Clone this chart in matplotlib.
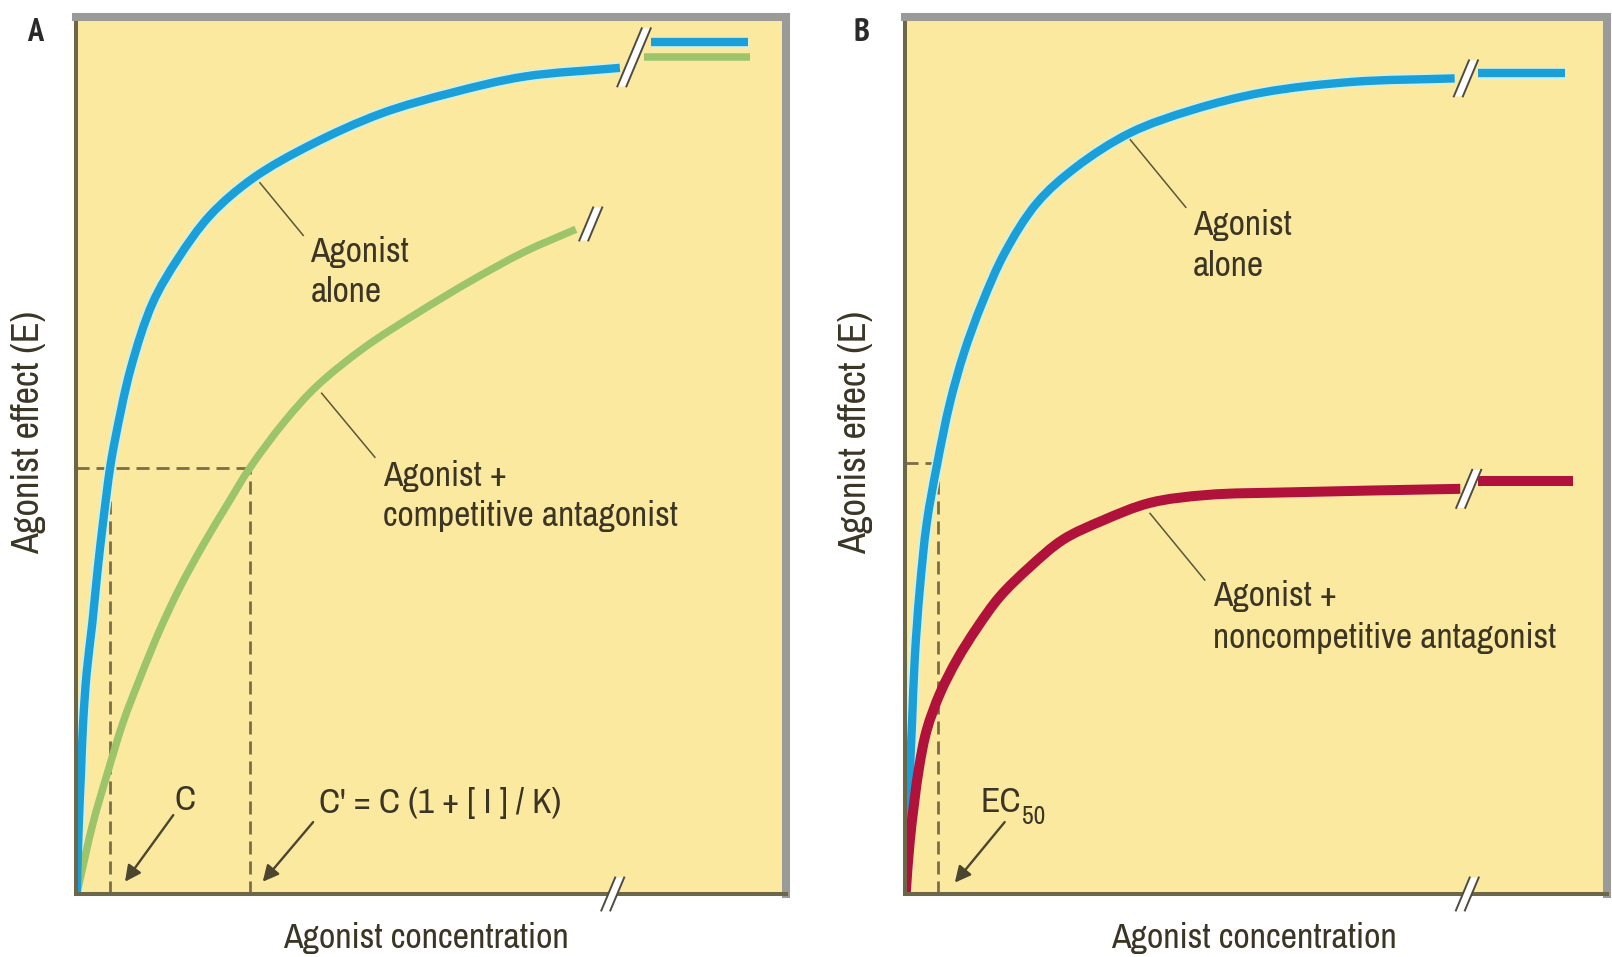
import matplotlib
matplotlib.use("Agg")
import numpy as np
import matplotlib.pyplot as plt
from matplotlib import font_manager
from matplotlib.font_manager import FontProperties
from matplotlib.patches import Polygon, PathPatch
from matplotlib.path import Path
from matplotlib.lines import Line2D

# ---------------- data ----------------
# Panel A : agonist alone (blue) and agonist + competitive antagonist (green)
blue_a_x = [0.1, 0.4, 0.7, 1.0, 1.5, 2.3, 3.0, 3.8, 4.8, 5.5, 7.7, 10.8, 14.4, 18.9, 24.9, 33.0, 43.0, 53.1, 63.1, 76.6]
blue_a_y = [0.0, 8.1, 13.8, 19.5, 25.2, 30.9, 36.6, 42.3, 48.6, 51.8, 59.9, 67.4, 72.5, 77.4, 81.6, 85.4, 89.0, 91.4, 93.2, 94.2]
blue_a_tail_x = [81.0, 94.6]
blue_a_tail_y = [97.1, 97.1]

green_a_x = [0.1, 2.4, 4.4, 6.6, 9.0, 11.8, 14.6, 17.9, 21.3, 24.5, 29.4, 33.9, 40.6, 48.0, 55.6, 63.1, 70.4]
green_a_y = [0.0, 8.1, 13.7, 19.5, 24.6, 30.1, 34.9, 39.8, 44.4, 48.6, 53.9, 57.9, 62.3, 66.2, 69.9, 73.2, 75.8]
green_a_tail_x = [80.0, 94.9]
green_a_tail_y = [95.4, 95.4]

half_a = 48.6
c_a = 4.8
c_prime_a = 24.5

# Panel B : agonist alone (blue) and agonist + noncompetitive antagonist (red)
blue_b_x = [0.1, 0.3, 0.6, 1.0, 1.4, 2.1, 3.1, 4.6, 6.4, 8.4, 11.0, 14.2, 18.8, 24.4, 32.1, 40.9, 51.0, 63.7, 78.3]
blue_b_y = [0.0, 4.2, 11.9, 19.5, 27.0, 34.7, 42.3, 49.1, 56.0, 61.7, 67.4, 73.1, 78.8, 82.9, 86.8, 89.4, 91.4, 92.6, 93.0]
blue_b_tail_x = [81.6, 94.0]
blue_b_tail_y = [93.6, 93.6]

red_b_x = [0.1, 0.7, 2.0, 3.1, 5.0, 7.4, 10.3, 13.5, 17.8, 22.5, 28.2, 34.9, 43.0, 54.8, 79.1]
red_b_y = [0.0, 6.2, 14.4, 18.7, 22.9, 26.7, 30.4, 33.9, 37.3, 40.4, 42.6, 44.6, 45.5, 45.8, 46.2]
red_b_tail_x = [81.6, 95.2]
red_b_tail_y = [47.1, 47.1]

half_b = 49.1
ec50_b = 4.7

# axis-break marks (data coords of centre)
breaks_a = [(78.6, 95.4), (72.5, 76.4), (75.6, 0.0)]
breaks_b = [(79.9, 93.0), (80.3, 46.2), (80.1, 0.0)]

# ---------------- font choice (prefer a narrow sans) ----------------
def pick_font(bold=False):
    cands = []
    for f in font_manager.fontManager.ttflist:
        key = (f.name + " " + f.fname).lower()
        if f.style != "normal":
            continue
        wt = f.weight if isinstance(f.weight, int) else (700 if f.weight == "bold" else 400)
        if (bold and wt != 700) or (not bold and wt != 400):
            continue
        if "narrow" in key:
            cands.append((0, f.fname))
        elif "condensed" in key and "semi" not in key and "extra" not in key \
                and "ultra" not in key and "dejavu" not in key:
            cands.append((1, f.fname))
        elif "semicondensed" in key.replace(" ", "").replace("-", "") and "dejavu" not in key:
            cands.append((2, f.fname))
    if cands:
        cands.sort()
        return FontProperties(fname=cands[0][1])
    return None


FP = pick_font() or FontProperties(family=["Liberation Sans", "DejaVu Sans"])
FPB = pick_font(bold=True) or FontProperties(family=["Liberation Sans", "DejaVu Sans"], weight="bold")

BG = "#FCE9A0"
BLUE = "#1A9FD9"
HALO = "#CDF1EC"
GREEN = "#9CC46B"
RED = "#B1123C"
TXT = "#3A3524"
DASH = "#7A6E48"
LEAD = "#5C5638"

W, H = 1612, 957
fig = plt.figure(figsize=(W / 100, H / 100), dpi=100)
fig.patch.set_facecolor("white")
renderer = fig.canvas.get_renderer()


def fit(s, target_px, prop=FP):
    p = prop.copy()
    p.set_size(20)
    w, h, d = renderer.get_text_width_height_descent(s, p, ismath=False)
    return 20 * target_px / w


def fit_h(s, target_px, prop):
    p = prop.copy()
    p.set_size(20)
    w, h, d = renderer.get_text_width_height_descent(s, p, ismath=False)
    return 20 * target_px / (h - d)


FS = fit("competitive antagonist", 295)
FS_X = fit("Agonist concentration", 286)
FS_Y = FS * 1.08
FS_L = fit_h("A", 22, FPB)


def fprop(size, base=FP):
    p = base.copy()
    p.set_size(size)
    return p


def make_ax(left_px, right_px):
    top_px, bot_px = 17, 894
    ax = fig.add_axes([left_px / W, (H - bot_px) / H,
                       (right_px - left_px) / W, (bot_px - top_px) / H])
    ax.set_facecolor(BG)
    ax.set_xlim(0, 100)
    ax.set_ylim(0, 100)
    ax.set_xticks([])
    ax.set_yticks([])
    for s in ("left", "bottom"):
        ax.spines[s].set_color("#6C6748")
        ax.spines[s].set_linewidth(2.9)
    for s in ("top", "right"):
        ax.spines[s].set_color("#9A9A98")
        ax.spines[s].set_linewidth(5.8)
    return ax


def smooth_path(ax, x, y, alpha=0.5):
    """Centripetal Catmull-Rom curve through the given points (built in pixel space)."""
    P = ax.transData.transform(np.column_stack([x, y]))
    n = len(P)
    if n == 2:
        return Path(ax.transData.inverted().transform(P))
    ext = np.vstack([2 * P[0] - P[1], P, 2 * P[-1] - P[-2]])
    verts = [P[0]]
    codes = [Path.MOVETO]
    for i in range(1, n):
        p0, p1, p2, p3 = ext[i - 1], ext[i], ext[i + 1], ext[i + 2]
        d1 = max(np.hypot(*(p1 - p0)), 1e-6) ** alpha
        d2 = max(np.hypot(*(p2 - p1)), 1e-6) ** alpha
        d3 = max(np.hypot(*(p3 - p2)), 1e-6) ** alpha
        b1 = (d1 ** 2 * p2 - d2 ** 2 * p0 + (2 * d1 ** 2 + 3 * d1 * d2 + d2 ** 2) * p1) / (3 * d1 * (d1 + d2))
        b2 = (d3 ** 2 * p1 - d2 ** 2 * p3 + (2 * d3 ** 2 + 3 * d3 * d2 + d2 ** 2) * p2) / (3 * d3 * (d3 + d2))
        verts += [b1, b2, p2]
        codes += [Path.CURVE4] * 3
    verts = ax.transData.inverted().transform(np.array(verts))
    return Path(verts, codes)


def curve(ax, x, y, color, lw, halo=None):
    path = smooth_path(ax, x, y)
    if halo:
        ax.add_patch(PathPatch(path, fill=False, edgecolor=halo, lw=lw + 2.2,
                               capstyle="butt", joinstyle="round", zorder=2))
    ax.add_patch(PathPatch(path, fill=False, edgecolor=color, lw=lw,
                           capstyle="butt", joinstyle="round", zorder=2.1))


def brk(ax, cx, cy, h_px, gap_px=9):
    px, py = ax.transData.transform((cx, cy))
    t = 0.42 * h_px
    pts = [(px - gap_px / 2 - t / 2, py - h_px / 2),
           (px + gap_px / 2 - t / 2, py - h_px / 2),
           (px + gap_px / 2 + t / 2, py + h_px / 2),
           (px - gap_px / 2 + t / 2, py + h_px / 2)]
    fp = [(a / W, b / H) for a, b in pts]
    fig.add_artist(Polygon(fp, closed=True, transform=fig.transFigure,
                           facecolor="white", edgecolor="none", zorder=5))
    for (a, b) in ((fp[0], fp[3]), (fp[1], fp[2])):
        fig.add_artist(Line2D([a[0], b[0]], [a[1], b[1]], transform=fig.transFigure,
                              color="#4E4C40", lw=1.4, zorder=6))


def dashed(ax, x, y):
    ax.plot(x, y, color=DASH, lw=2.0, linestyle=(0, (4.7, 2.5)), zorder=1.8)


def leader(ax, p0, p1):
    ax.plot([p0[0], p1[0]], [p0[1], p1[1]], color=LEAD, lw=1.1, zorder=3)


def arrow(ax, tail, head):
    ax.annotate("", xy=head, xytext=tail,
                arrowprops=dict(arrowstyle="-|>", mutation_scale=24, lw=1.7,
                                color="#4A4630", shrinkA=0, shrinkB=0), zorder=4)


def txt(ax, x, y, s, size=None, **kw):
    kw.setdefault("ha", "left")
    return ax.text(x, y, s, fontproperties=fprop(size or FS), color=TXT,
                   va="baseline", zorder=4, **kw)


# ---------------- Panel A ----------------
axA = make_ax(76, 786)
dashed(axA, [0, c_prime_a], [half_a, half_a])
dashed(axA, [c_a, c_a], [0, half_a])
dashed(axA, [c_prime_a, c_prime_a], [0, half_a])
curve(axA, green_a_x, green_a_y, GREEN, 5.4)
curve(axA, green_a_tail_x, green_a_tail_y, GREEN, 5.4)
curve(axA, blue_a_x, blue_a_y, BLUE, 6.0, HALO)
curve(axA, blue_a_tail_x, blue_a_tail_y, BLUE, 6.0, HALO)

leader(axA, (25.9, 81.1), (32.0, 75.1))
leader(axA, (34.6, 57.1), (42.1, 49.8))
txt(axA, 33.0, 72.1, "Agonist")
txt(axA, 33.0, 67.5, "alone")
txt(axA, 43.2, 46.5, "Agonist +")
txt(axA, 43.2, 42.0, "competitive antagonist")
txt(axA, 15.4, 9.6, "C", ha="center")
txt(axA, 34.2, 9.2, "C' = C (1 + [ I ] / K)")
arrow(axA, (13.7, 9.0), (6.9, 1.4))
arrow(axA, (33.4, 8.2), (26.3, 1.4))

# ---------------- Panel B ----------------
axB = make_ax(905, 1607)
dashed(axB, [0, ec50_b], [half_b, half_b])
dashed(axB, [ec50_b, ec50_b], [0, half_b])
curve(axB, blue_b_x, blue_b_y, BLUE, 6.0, HALO)
curve(axB, blue_b_tail_x, blue_b_tail_y, BLUE, 6.0, HALO)
curve(axB, red_b_x, red_b_y, RED, 7.2)
curve(axB, red_b_tail_x, red_b_tail_y, RED, 7.2)

leader(axB, (32.1, 86.0), (40.0, 78.3))
leader(axB, (34.9, 43.4), (42.7, 35.8))
txt(axB, 41.0, 75.1, "Agonist")
txt(axB, 41.0, 70.5, "alone")
txt(axB, 43.9, 32.8, "Agonist +")
txt(axB, 43.9, 28.0, "noncompetitive antagonist")
ec = txt(axB, 10.7, 9.4, "EC")
bb = ec.get_window_extent(renderer)
x_sub = axB.transData.inverted().transform((bb.x1 + 1, 0))[0]
txt(axB, x_sub, 8.0, "50", size=FS * 0.72)
arrow(axB, (14.2, 8.2), (7.1, 1.3))

# breaks
for cx, cy in breaks_a:
    h = 58 if cy > 90 else 33
    brk(axA, cx, cy, h)
for cx, cy in breaks_b:
    h = 36 if cy > 90 else (38 if cy > 1 else 33)
    brk(axB, cx, cy, h)

# axis labels & panel letters
for xc, xl in ((29, 426), (856, 1254)):
    fig.text(xc / W, 1 - 432 / H, "Agonist effect (E)", rotation=90,
             ha="center", va="center", fontproperties=fprop(FS_Y), color=TXT)
    fig.text(xl / W, 1 - 948 / H, "Agonist concentration", ha="center",
             va="baseline", fontproperties=fprop(FS_X), color=TXT)
for xc, letter in ((35, "A"), (861, "B")):
    fig.text(xc / W, 1 - 41 / H, letter, ha="center", va="baseline",
             fontproperties=fprop(FS_L, FPB), color="#2A2A2A")

fig.savefig("out.png", dpi=100, facecolor="white")
